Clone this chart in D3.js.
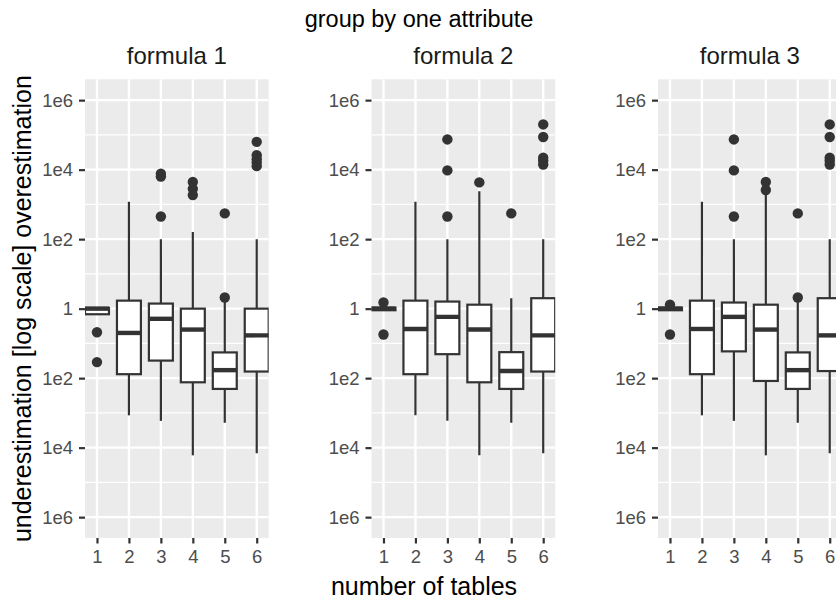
<!DOCTYPE html>
<html>
<head>
<meta charset="utf-8">
<script src="https://cdn.jsdelivr.net/npm/d3@7"></script>
<style>
  html, body { margin: 0; padding: 0; background: #ffffff; }
  svg { display: block; font-family: "Liberation Sans", Arial, Helvetica, sans-serif; }
</style>
</head>
<body>
<div id="chart"></div>
<script>
// Facets, categories and axis labels
const facetNames = ["formula 1", "formula 2", "formula 3"];
const tableCounts = [1, 2, 3, 4, 5, 6];
const yTickValues = [1e-6, 1e-4, 1e-2, 1, 1e2, 1e4, 1e6];
const yTickLabels = ["1e6", "1e4", "1e2", "1", "1e2", "1e4", "1e6"];
const yMinorValues = [1e-5, 1e-3, 1e-1, 1e1, 1e3, 1e5];

// Estimate / true ratio per number of tables: [whisker low, Q1, median, Q3, whisker high]
const formula1Stats = [
  [0.69, 0.69, 1.0, 1.05, 1.05],
  [8.5e-4, 0.013, 0.20, 1.7, 1.2e3],
  [5.9e-4, 0.032, 0.51, 1.4, 100],
  [6.0e-5, 7.6e-3, 0.25, 1.0, 160],
  [5.2e-4, 4.9e-3, 0.017, 0.055, 1.6],
  [6.9e-5, 0.0155, 0.17, 1.0, 100]
];
const formula1Outliers = [
  [0.21, 0.029],
  [],
  [7.6e3, 6.3e3, 450],
  [4.4e3, 2.8e3, 1.85e3],
  [2.1, 550],
  [6.3e4, 2.6e4, 2.0e4, 1.6e4, 1.26e4]
];

const formula2Stats = [
  [0.9, 0.9, 1.0, 1.07, 1.07],
  [8.5e-4, 0.013, 0.26, 1.7, 1.2e3],
  [5.9e-4, 0.049, 0.58, 1.6, 100],
  [6.0e-5, 7.6e-3, 0.25, 1.3, 2.4e3],
  [5.2e-4, 4.9e-3, 0.016, 0.056, 2.0],
  [6.9e-5, 0.0155, 0.17, 2.0, 100]
];
const formula2Outliers = [
  [1.5, 0.18],
  [],
  [7.4e4, 9.5e3, 450],
  [4.3e3],
  [550],
  [2.0e5, 8.7e4, 2.2e4, 1.8e4, 1.4e4]
];

const formula3Stats = [
  [0.9, 0.9, 1.0, 1.07, 1.07],
  [8.5e-4, 0.013, 0.26, 1.7, 1.2e3],
  [5.9e-4, 0.059, 0.58, 1.5, 100],
  [6.0e-5, 8.3e-3, 0.25, 1.3, 2.1e3],
  [5.2e-4, 4.9e-3, 0.017, 0.055, 1.6],
  [6.9e-5, 0.016, 0.17, 2.0, 100]
];
const formula3Outliers = [
  [1.3, 0.18],
  [],
  [7.4e4, 9.5e3, 450],
  [4.4e3, 2.6e3],
  [2.1, 550],
  [2.0e5, 8.7e4, 2.2e4, 1.8e4, 1.4e4]
];

const statsByFacet = [formula1Stats, formula2Stats, formula3Stats];
const outliersByFacet = [formula1Outliers, formula2Outliers, formula3Outliers];

// Layout
const width = 836, height = 602;
const panelTop = 79.3, panelBottom = 538;
const firstPanelLeft = 85, panelStep = 286.5, panelWidth = 183.7;
const ink = "#333333";
const lineW = 2.2;

const svg = d3.select("#chart").append("svg")
  .attr("width", width).attr("height", height)
  .attr("viewBox", `0 0 ${width} ${height}`);

const y = d3.scaleLog().domain([Math.pow(10, -6.6), Math.pow(10, 6.6)]).range([panelBottom, panelTop]);
const x = d3.scaleLinear().domain([0.625, 6.375]).range([0, panelWidth]);
const boxWidth = x(0.75) - x(0);

const defs = svg.append("defs");

facetNames.forEach((name, fi) => {
  const left = firstPanelLeft + fi * panelStep;
  const g = svg.append("g").attr("transform", `translate(${left},0)`);
  const clipId = `panel-clip-${fi}`;
  defs.append("clipPath").attr("id", clipId)
    .append("rect").attr("x", 0).attr("y", panelTop)
    .attr("width", panelWidth).attr("height", panelBottom - panelTop);

  // Panel background
  g.append("rect").attr("x", 0).attr("y", panelTop)
    .attr("width", panelWidth).attr("height", panelBottom - panelTop)
    .attr("fill", "#EBEBEB");

  const grid = g.append("g").attr("clip-path", `url(#${clipId})`);
  grid.selectAll("line.minor").data(yMinorValues).join("line")
    .attr("class", "minor")
    .attr("x1", 0).attr("x2", panelWidth)
    .attr("y1", d => y(d)).attr("y2", d => y(d))
    .attr("stroke", "#ffffff").attr("stroke-width", 1.2);
  grid.selectAll("line.major-y").data(yTickValues).join("line")
    .attr("class", "major-y")
    .attr("x1", 0).attr("x2", panelWidth)
    .attr("y1", d => y(d)).attr("y2", d => y(d))
    .attr("stroke", "#ffffff").attr("stroke-width", 2.4);
  grid.selectAll("line.major-x").data(tableCounts).join("line")
    .attr("class", "major-x")
    .attr("x1", d => x(d)).attr("x2", d => x(d))
    .attr("y1", panelTop).attr("y2", panelBottom)
    .attr("stroke", "#ffffff").attr("stroke-width", 2.4);

  // Boxplots
  const marks = g.append("g").attr("clip-path", `url(#${clipId})`);
  const stats = statsByFacet[fi];
  const outliers = outliersByFacet[fi];
  tableCounts.forEach((t, i) => {
    const [lo, q1, med, q3, hi] = stats[i];
    const cx = x(t);
    const bg = marks.append("g");
    bg.append("line").attr("x1", cx).attr("x2", cx)
      .attr("y1", y(q3)).attr("y2", y(hi))
      .attr("stroke", ink).attr("stroke-width", lineW);
    bg.append("line").attr("x1", cx).attr("x2", cx)
      .attr("y1", y(q1)).attr("y2", y(lo))
      .attr("stroke", ink).attr("stroke-width", lineW);
    bg.append("rect")
      .attr("x", cx - boxWidth / 2).attr("width", boxWidth)
      .attr("y", y(q3)).attr("height", Math.max(0, y(q1) - y(q3)))
      .attr("fill", "#ffffff").attr("stroke", ink).attr("stroke-width", lineW);
    bg.append("line")
      .attr("x1", cx - boxWidth / 2).attr("x2", cx + boxWidth / 2)
      .attr("y1", y(med)).attr("y2", y(med))
      .attr("stroke", ink).attr("stroke-width", lineW * 2);
    bg.selectAll("circle").data(outliers[i]).join("circle")
      .attr("cx", cx).attr("cy", d => y(d)).attr("r", 5.2)
      .attr("fill", ink);
  });

  // Axes
  const yAxis = g.append("g")
    .call(d3.axisLeft(y).tickValues(yTickValues)
      .tickFormat((d, i) => yTickLabels[i]).tickSize(6).tickPadding(6));
  const xAxis = g.append("g").attr("transform", `translate(0,${panelBottom})`)
    .call(d3.axisBottom(x).tickValues(tableCounts).tickFormat(d3.format("d"))
      .tickSize(5.5).tickPadding(6.5));
  [yAxis, xAxis].forEach(ax => {
    ax.select(".domain").remove();
    ax.selectAll(".tick line").attr("stroke", ink).attr("stroke-width", 2.2);
    ax.selectAll(".tick text")
      .attr("fill", "#4D4D4D").attr("font-size", 18.5)
      .attr("font-family", "Liberation Sans, Arial, sans-serif");
  });

  // Facet strip label
  g.append("text")
    .attr("x", panelWidth / 2).attr("y", 64)
    .attr("text-anchor", "middle").attr("font-size", 24)
    .attr("fill", "#1A1A1A").text(name);
});

// Titles
svg.append("text")
  .attr("x", 419).attr("y", 27)
  .attr("text-anchor", "middle").attr("font-size", 23.5)
  .attr("fill", "#000000").text("group by one attribute");

svg.append("text")
  .attr("x", 424).attr("y", 595)
  .attr("text-anchor", "middle").attr("font-size", 25)
  .attr("fill", "#000000").text("number of tables");

svg.append("text")
  .attr("transform", `translate(31,${y(1)}) rotate(-90)`)
  .attr("text-anchor", "middle").attr("font-size", 25)
  .attr("fill", "#000000").text("underestimation [log scale] overestimation");
</script>
</body>
</html>
